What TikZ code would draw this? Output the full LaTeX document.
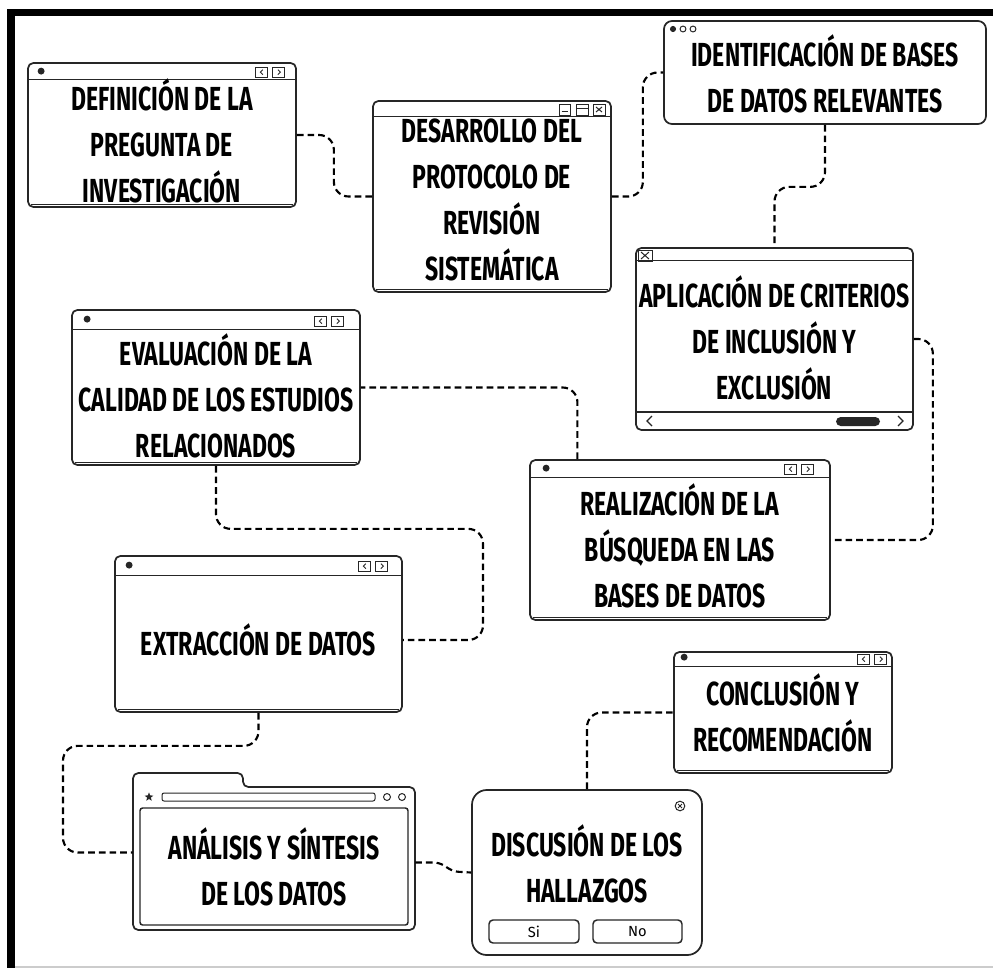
\documentclass[tikz,border=0pt]{standalone}
\usepackage{fontspec}
\setmainfont{Fira Sans}
\newfontfamily\boxfont{Fira Sans}[FakeStretch=0.69]
\usetikzlibrary{calc,shapes.geometric}
\definecolor{ink}{HTML}{262626}
\newcommand\pxu{0.75pt}
\tikzset{
  win/.style={draw=ink, line width=1.3pt, fill=white, rounded corners=4pt, inner sep=0pt},
  lbl/.style={font=\boxfont\bfseries\fontsize{25}{34.5}\selectfont, align=center, inner sep=0pt, text=black},
  conn/.style={draw=black, line width=1.6pt, dash pattern=on 5pt off 3pt, rounded corners=11pt},
  thinl/.style={draw=ink, line width=0.75pt},
  btn/.style={draw=ink, line width=1.1pt, rounded corners=3pt, inner sep=0pt, font=\fontsize{11}{11}\selectfont},
}
\newcommand\navbtns[3]{% node, x offset, y offset
  \draw[thinl] ($(#1.north east)+(#2,#3)$) rectangle ++(12,10);
  \draw[thinl] ($(#1.north east)+(#2+17,#3)$) rectangle ++(12,10);
  \draw[thinl] ($(#1.north east)+(#2+7,#3+2.5)$) -- ++(-2.5,2.5) -- ++(2.5,2.5);
  \draw[thinl] ($(#1.north east)+(#2+22,#3+2.5)$) -- ++(2.5,2.5) -- ++(-2.5,2.5);
}
\newcommand\titleline[2]{% node, y offset
  \draw[thinl, line width=0.9pt] ($(#1.north west)+(0,#2)$) -- ($(#1.north east)+(0,#2)$);
}
\newcommand\sketchbottom[1]{%
  \draw[thinl, line width=0.6pt] ($(#1.south west)+(4,-3)$) -- ($(#1.south east)+(-4,-3)$);
}
\newcommand\windot[3]{\fill[ink] ($(#1.north west)+(#2,#3)$) circle (2.6pt);}
\begin{document}
\begin{tikzpicture}[x=0.75pt,y=-0.75pt]
\useasboundingbox (0,0) rectangle (993,968);
% page frame
\fill[black] (7,9) rectangle (993,16);
\fill[black] (7,9) rectangle (15,968);
\draw[black!20, line width=1pt] (15,967) -- (993,967);

% ---------- boxes ----------
\node[win, minimum width=268*\pxu, minimum height=144*\pxu] (def) at (162,135) {};
\node[win, minimum width=238*\pxu, minimum height=191*\pxu] (des) at (492,196.5) {};
\node[win, rounded corners=6pt, minimum width=322*\pxu, minimum height=103*\pxu] (ide) at (825,72.5) {};
\node[win, minimum width=277*\pxu, minimum height=182*\pxu] (apl) at (774.5,339) {};
\node[win, minimum width=288*\pxu, minimum height=155*\pxu] (eva) at (216,387.5) {};
\node[win, minimum width=300*\pxu, minimum height=160*\pxu] (rea) at (680,540) {};
\node[win, minimum width=287*\pxu, minimum height=156*\pxu] (ext) at (258.5,634) {};
\node[inner sep=0pt, minimum width=282*\pxu, minimum height=143*\pxu] (ana) at (274,858.5) {};
\node[win, rounded corners=11pt, minimum width=230*\pxu, minimum height=165*\pxu] (dis) at (587,872.5) {};
\node[win, minimum width=218*\pxu, minimum height=121*\pxu] (con) at (783,712.5) {};

% ---------- window decorations ----------
% definicion
\titleline{def}{17}\windot{def}{14}{9}\navbtns{def}{-41}{5}\sketchbottom{def}
% desarrollo: minimize / maximize / close
\titleline{des}{16}\sketchbottom{des}
\draw[thinl] (559,104) rectangle (570,115); \draw[thinl] (561.5,111) -- (567.5,111);
\draw[thinl] (576,104) rectangle (588,115); \draw[thinl] (576,108) -- (588,108);
\draw[thinl] (593,104) rectangle (605,115); \draw[thinl] (596,107) -- (602,112) (596,112) -- (602,107);
% identificacion: three dots
\fill[ink] (673,29) circle (2.3pt);
\draw[thinl] (683,29) circle (2.2pt);
\draw[thinl] (693,29) circle (2.2pt);
% aplicacion
\titleline{apl}{13}
\draw[thinl] (638,250) rectangle (652,261); \draw[thinl] (641,252) -- (649,259) (641,259) -- (649,252);
\draw[thinl, line width=0.9pt] (636,412) -- (913,412);
\draw[thinl, line width=0.9pt] (652,416) -- (647,421) -- (652,426);
\draw[thinl, line width=0.9pt] (898,416) -- (903,421) -- (898,426);
\fill[ink, rounded corners=3.5pt] (836,417) rectangle (880,426);
% evaluacion
\titleline{eva}{20}\windot{eva}{16}{10}\navbtns{eva}{-46}{7}\sketchbottom{eva}
% realizacion
\titleline{rea}{18}\windot{rea}{17}{9}\navbtns{rea}{-46}{5}\sketchbottom{rea}
% extraccion
\titleline{ext}{20}\windot{ext}{15}{10}\navbtns{ext}{-44}{6}\sketchbottom{ext}
% conclusion
\titleline{con}{15}\windot{con}{11}{6}\navbtns{con}{-35}{3}\sketchbottom{con}
% analisis: folder-like browser window
\draw[ink, line width=1.3pt, fill=white, rounded corners=4pt]
  (133,930) -- (133,773) -- (243,773) -- (243,787) -- (415,787) -- (415,930) -- cycle;
\draw[ink, line width=1.1pt, rounded corners=2pt] (140,808) rectangle (408,925);
\node[star, star points=5, star point ratio=2.4, fill=ink, inner sep=0pt, minimum size=7pt] (anastar) at (149,797) {};
\draw[thinl, rounded corners=1.5pt] (162,793) rectangle (375,801);
\draw[thinl] (387,797) circle (2.6pt);
\draw[thinl] (402,797) circle (2.6pt);
% discusion: dialog
\draw[thinl] (680,806) circle (3.6pt);
\draw[thinl] (678,804) -- (682,808) (678,808) -- (682,804);
\node[btn, minimum width=90*\pxu, minimum height=23*\pxu] (si) at (534,931.5) {Si};
\node[btn, minimum width=89*\pxu, minimum height=23*\pxu] (no) at (637.5,931.5) {No};

% ---------- labels ----------
\node[lbl] (t1) at (162,141) {DEFINICIÓN DE LA\\PREGUNTA DE\\INVESTIGACIÓN};
\node[lbl] (t2) at (492,200) {DESARROLLO DEL\\PROTOCOLO DE\\REVISIÓN\\SISTEMÁTICA};
\node[lbl] (t3) at (825,74) {IDENTIFICACIÓN DE BASES\\DE DATOS RELEVANTES};
\node[lbl] (t4) at (774.5,338) {APLICACIÓN DE CRITERIOS\\DE INCLUSIÓN Y\\EXCLUSIÓN};
\node[lbl] (t5) at (216,396) {EVALUACIÓN DE LA\\CALIDAD DE LOS ESTUDIOS\\RELACIONADOS};
\node[lbl] (t6) at (680,546) {REALIZACIÓN DE LA\\BÚSQUEDA EN LAS\\BASES DE DATOS};
\node[lbl] (t7) at (258.5,640) {EXTRACCIÓN DE DATOS};
\node[lbl] (t8) at (274,867) {ANÁLISIS Y SÍNTESIS\\DE LOS DATOS};
\node[lbl] (t9) at (587,864) {DISCUSIÓN DE LOS\\HALLAZGOS};
\node[lbl] (t10) at (783,713) {CONCLUSIÓN Y\\RECOMENDACIÓN};

% ---------- connectors ----------
\draw[conn] (def.east) -- ++(37,0) |- (des.west);
\draw[conn] (des.east) -- ++(31,0) |- (ide.west);
\draw[conn] (ide.south) -- ++(0,62) -| (apl.north);
\draw[conn] (apl.east) -- ++(19,0) |- (rea.east);
\draw[conn] ($(rea.north west)!0.16!(rea.north east)$) |- (eva.east);
\draw[conn] (eva.south) -- ++(0,63) -| (483,600) |- ([yshift=-4.5pt]ext.east);
\draw[conn] (ext.south) -- ++(0,33) -- ++(-195.5,0) |- ([yshift=4.5pt]ana.west);
\draw[conn, rounded corners=4pt] ([yshift=-3pt]ana.east) -- ++(24,0) -- ++(14,9) -- (dis.west);
\draw[conn] (dis.north) |- (con.west);
\end{tikzpicture}
\end{document}
